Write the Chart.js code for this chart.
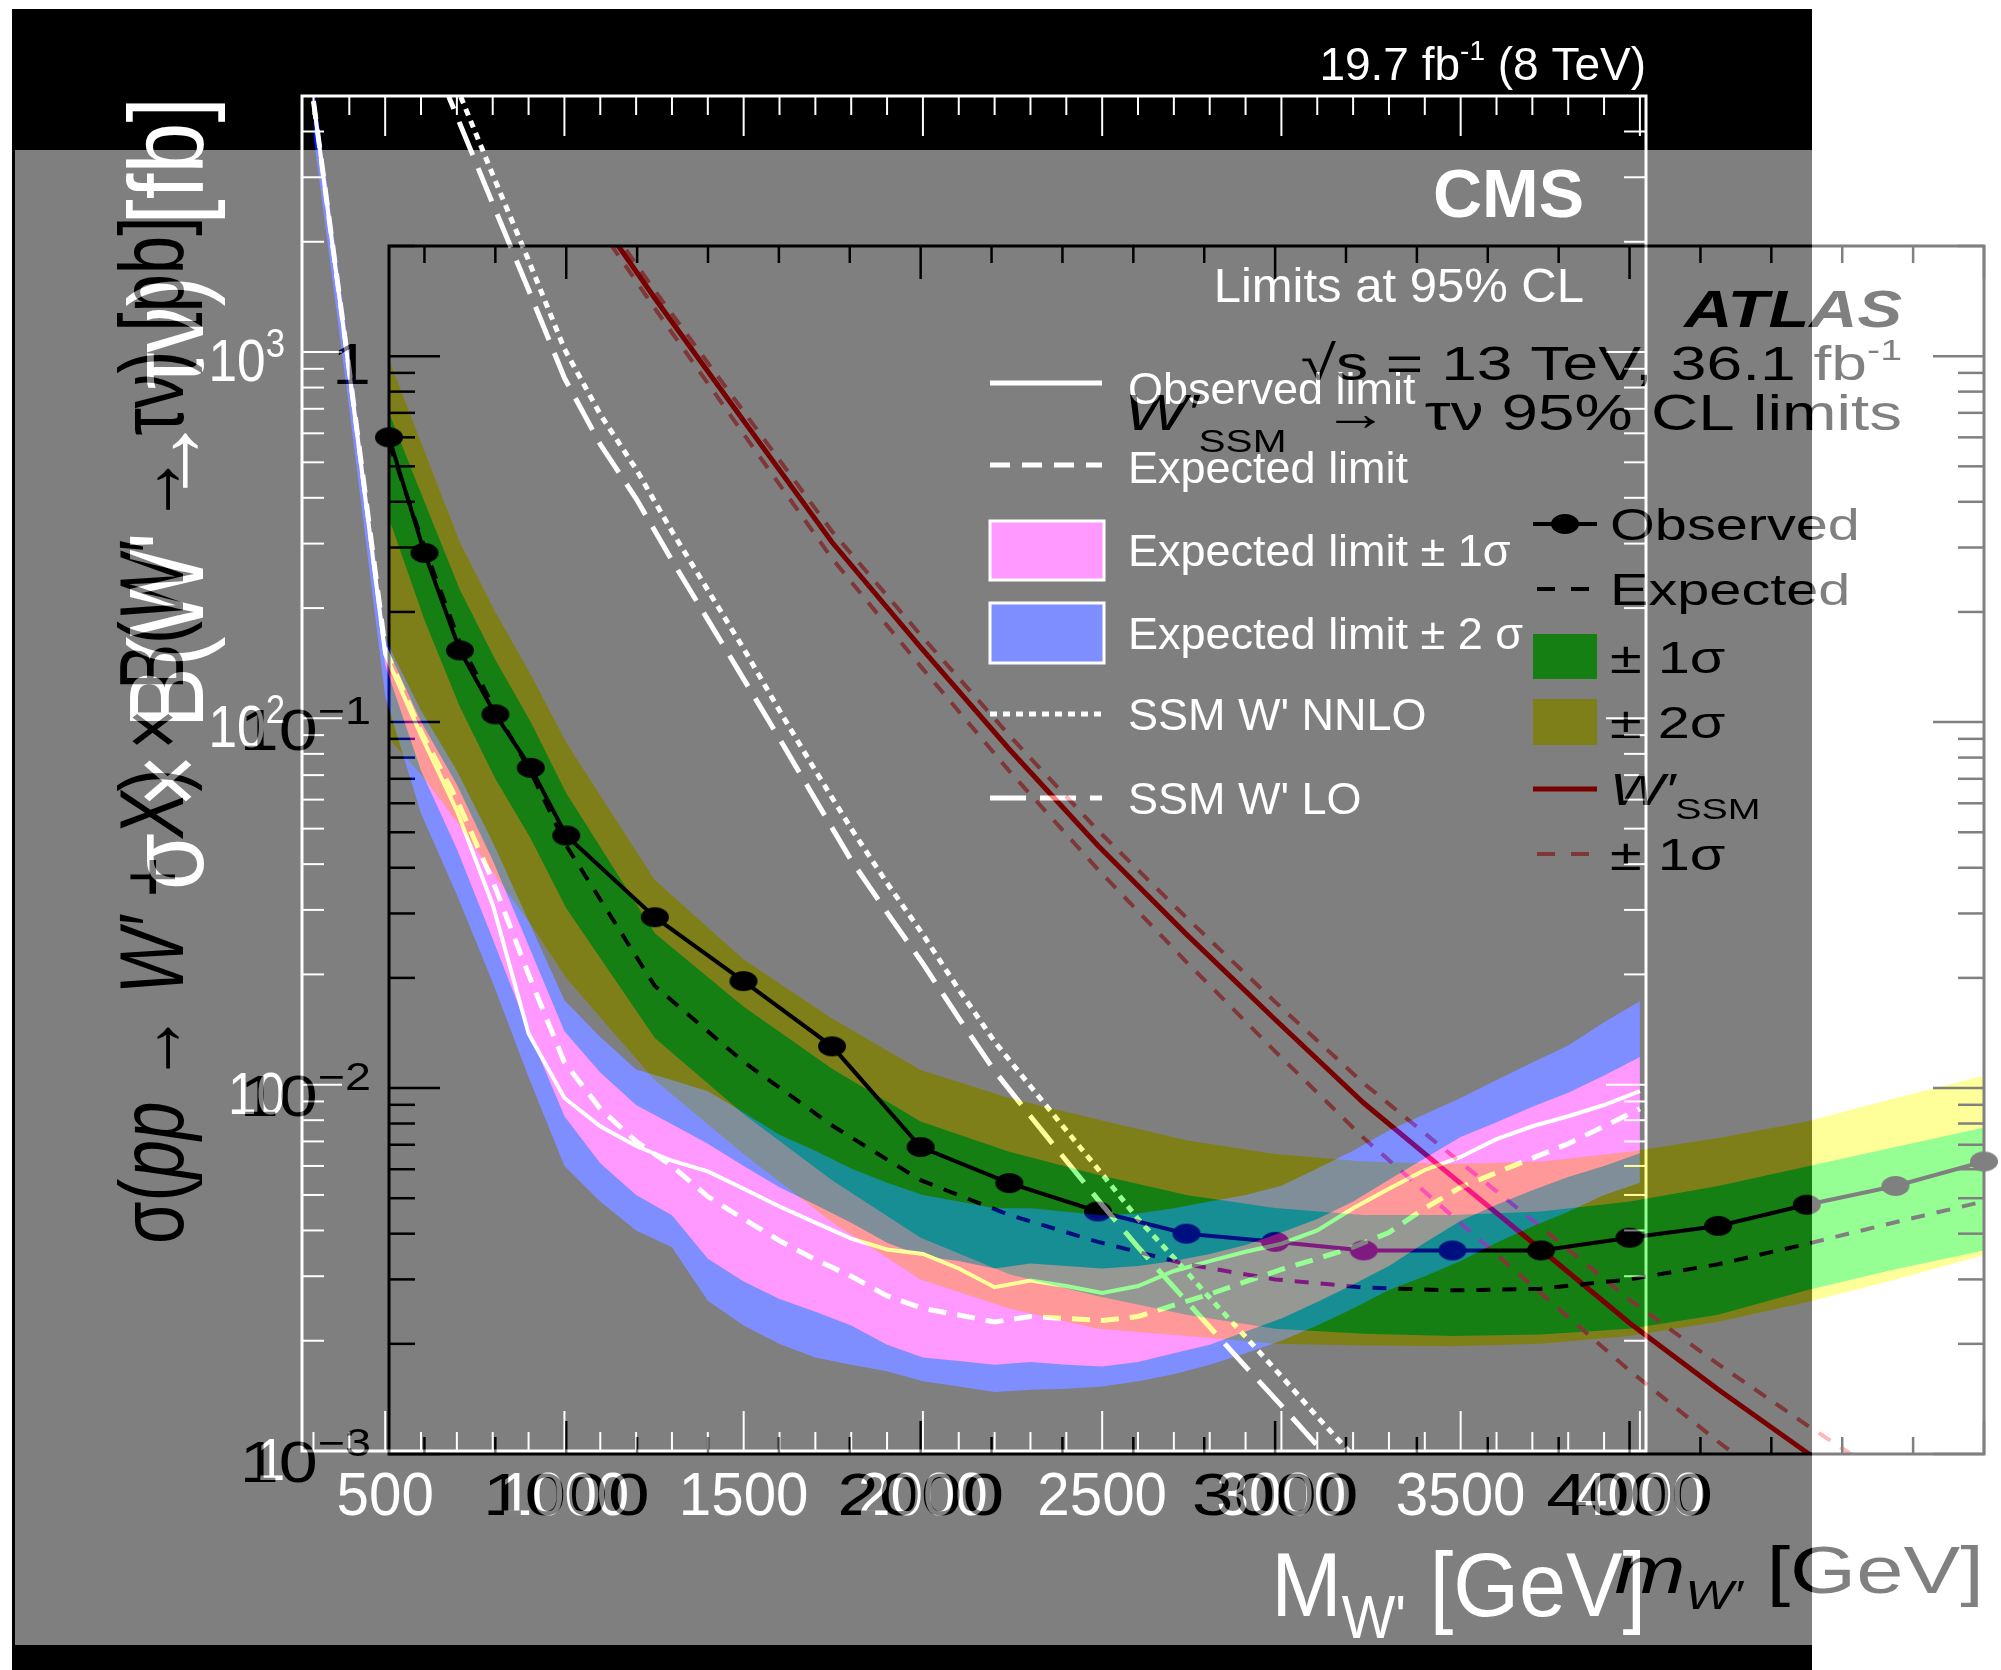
<!DOCTYPE html>
<html>
<head>
<meta charset="utf-8">
<script src="https://cdn.jsdelivr.net/npm/chart.js@4.4.1/dist/chart.umd.min.js"></script>
<style>
  html, body { margin: 0; padding: 0; background: #fff; }
  body { width: 2001px; height: 1670px; position: relative; overflow: hidden; }
  #cmsBox { position: absolute; left: 12px; top: 9px; width: 1800px; height: 1661px; background: #000; }
  #atlasBox { position: absolute; left: 15px; top: 150px; width: 1986px; height: 1495px; background: #fff; opacity: 0.5; }
  canvas { display: block; }
</style>
</head>
<body>
<div id="cmsBox"><canvas id="cms" width="1800" height="1661"></canvas></div>
<div id="atlasBox"><canvas id="atlas" width="1986" height="1495"></canvas></div>
<script>
// ---- CMS 8 TeV (fb) ----
var cmsMass = [300, 400, 500, 600, 700, 800, 900, 1000, 1100, 1200, 1300, 1400, 1500, 1600, 1700, 1800, 1900, 2000, 2100, 2200,
  2300, 2400, 2500, 2600, 2700, 2800, 2900, 3000, 3100, 3200, 3300, 3400, 3500, 3600, 3700, 3800, 3900, 4000];
var cmsObs = [4840, 880, 150, 90, 56, 31, 13.8, 9.2, 7.7, 6.8, 6.2, 5.8, 5.2, 4.65, 4.2, 3.8, 3.55, 3.45, 3.15, 2.8,
  2.92, 2.82, 2.7, 2.82, 3.1, 3.3, 3.5, 3.68, 4.0, 4.6, 5.2, 5.85, 6.35, 7.1, 7.7, 8.2, 8.8, 9.6];
var cmsExp = [4840, 890, 155, 92, 60, 36, 20, 11.5, 8.6, 7.0, 6.0, 4.95, 4.3, 3.75, 3.33, 3.0, 2.65, 2.45, 2.35, 2.25,
  2.33, 2.3, 2.27, 2.33, 2.5, 2.68, 2.9, 3.13, 3.35, 3.6, 3.95, 4.6, 5.25, 5.75, 6.3, 6.9, 7.7, 8.6];
var cmsUp1 = [5100, 940, 160, 98, 66, 41, 24, 14, 10.8, 8.8, 7.8, 6.9, 6.0, 5.25, 4.7, 4.2, 3.7, 3.4, 3.3, 3.15,
  3.25, 3.2, 3.15, 3.2, 3.3, 3.45, 3.65, 3.95, 4.3, 4.8, 5.5, 6.3, 7.2, 7.9, 8.7, 9.5, 10.6, 11.9];
var cmsDn1 = [4400, 800, 140, 72, 44, 25, 14, 8.2, 6.1, 5.0, 4.4, 3.35, 2.9, 2.6, 2.4, 2.2, 1.95, 1.8, 1.76, 1.72,
  1.75, 1.72, 1.7, 1.75, 1.85, 1.95, 2.12, 2.3, 2.55, 2.85, 3.2, 3.7, 4.25, 4.7, 5.15, 5.6, 6.0, 6.5];
var cmsUp2 = [5400, 1000, 165, 105, 72, 46, 28, 17, 13.5, 11.0, 10.3, 9.6, 8.4, 7.3, 6.6, 5.9, 5.4, 5.0, 4.8, 4.6,
  4.6, 4.5, 4.4, 4.45, 4.6, 4.8, 5.0, 5.3, 5.9, 6.6, 7.5, 8.3, 9.2, 10.3, 11.5, 12.8, 14.8, 16.9];
var cmsDn2 = [3900, 700, 115, 55, 33, 19, 10.5, 6.0, 4.8, 4.0, 3.6, 2.57, 2.2, 1.96, 1.8, 1.72, 1.65, 1.55, 1.5, 1.45,
  1.47, 1.48, 1.5, 1.55, 1.62, 1.72, 1.85, 2.0, 2.2, 2.45, 2.75, 3.0, 3.3, 3.7, 4.1, 4.5, 5.0, 5.4];
var thMass = [600, 700, 800, 900, 1000, 1100, 1200, 1300, 1400, 1500, 1600, 1700, 1800, 1900, 2000, 2100, 2200,
  2300, 2400, 2500, 2600, 2700, 2800, 2900, 3000, 3100, 3200, 3300];
var thLO = [7600, 4400, 2540, 1480, 850, 560, 398, 270, 186, 128, 88, 60, 41, 29.5, 21.4, 15.2, 10.9,
  8.2, 6.2, 4.7, 3.6, 2.8, 2.18, 1.70, 1.33, 1.035, 0.81, 0.63];
var thNNLO = [9100, 5280, 3050, 1780, 1020, 676, 479, 324, 224, 155, 105, 72, 50, 35.5, 25.7, 18.2, 13.1,
  9.9, 7.5, 5.7, 4.3, 3.37, 2.62, 2.05, 1.6, 1.24, 0.97, 0.76];

// ---- ATLAS 13 TeV (pb) ----
var atlasMass = [500, 600, 700, 800, 900, 1000, 1250, 1500, 1750, 2000, 2250, 2500, 2750, 3000, 3250, 3500, 3750, 4000, 4250, 4500, 4750, 5000];
var atlasObs = [0.60, 0.29, 0.157, 0.105, 0.075, 0.049, 0.0293, 0.0196, 0.0130, 0.0069, 0.0055, 0.0046, 0.0040, 0.0038, 0.0036, 0.0036, 0.0036, 0.0039, 0.0042, 0.0048, 0.0054, 0.0063];
var atlasExp = [0.58, 0.30, 0.165, 0.108, 0.073, 0.046, 0.019, 0.0118, 0.0079, 0.0056, 0.0045, 0.0038, 0.0033, 0.0030, 0.00285, 0.0028, 0.00283, 0.0030, 0.0033, 0.00375, 0.0043, 0.0049];
var atlasUp1 = [0.70, 0.40, 0.23, 0.148, 0.10, 0.064, 0.0265, 0.0167, 0.0113, 0.0081, 0.0067, 0.0058, 0.0051, 0.0047, 0.0045, 0.0045, 0.0046, 0.0049, 0.0054, 0.0061, 0.0069, 0.0078];
var atlasDn1 = [0.36, 0.19, 0.11, 0.07, 0.048, 0.031, 0.0137, 0.0085, 0.0056, 0.0039, 0.0031, 0.0027, 0.0024, 0.0022, 0.00213, 0.0021, 0.00212, 0.0022, 0.0024, 0.0028, 0.0032, 0.0036];
var atlasUp2 = [0.98, 0.55, 0.31, 0.20, 0.135, 0.088, 0.037, 0.0225, 0.0155, 0.0112, 0.0094, 0.0082, 0.0072, 0.0066, 0.0063, 0.0062, 0.0063, 0.0067, 0.0073, 0.0081, 0.0094, 0.0108];
var atlasDn2 = [0.09, 0.07, 0.052, 0.038, 0.028, 0.02, 0.0105, 0.0066, 0.0043, 0.0030, 0.0025, 0.0022, 0.0021, 0.0020, 0.00198, 0.00197, 0.0020, 0.0021, 0.0023, 0.0026, 0.0030, 0.0035];
var ssmMass = [1000, 1250, 1500, 1750, 2000, 2250, 2500, 2750, 3000, 3250, 3500, 3750, 4000, 4250, 4500, 4750, 5000];
var ssm = [3.2, 1.44, 0.667, 0.31, 0.16, 0.0843, 0.046, 0.0263, 0.0154, 0.0091, 0.00573, 0.00362, 0.00228, 0.0015, 0.00101, 0.00069, 0.00048];
var ssmUp = [3.33, 1.51, 0.707, 0.332, 0.173, 0.092, 0.0506, 0.0292, 0.0172, 0.0103, 0.00653, 0.00417, 0.00264, 0.00176, 0.0012, 0.00083, 0.00059];
var ssmDn = [3.04, 1.35, 0.614, 0.28, 0.142, 0.0735, 0.0396, 0.0221, 0.0126, 0.0073, 0.00447, 0.00275, 0.00169, 0.00108, 0.00071, 0.00047, 0.00032];

// ---- tick labels ----
var cmsXTicks = [500, 1000, 1500, 2000, 2500, 3000, 3500, 4000];
var cmsXLabels = ["500", "1000", "1500", "2000", "2500", "3000", "3500", "4000"];
var cmsYTicks = [1, 10, 100, 1000];
var cmsYLabels = [["1", ""], ["10", ""], ["10", "2"], ["10", "3"]];
var atlasXTicks = [1000, 2000, 3000, 4000];
var atlasXLabels = ["1000", "2000", "3000", "4000"];
var atlasYTicks = [0.001, 0.01, 0.1, 1];
var atlasYLabels = [["10", "\u22123"], ["10", "\u22122"], ["10", "\u22121"], ["1", ""]];

var FONT = '"Liberation Sans", Arial, Helvetica, sans-serif';
var CMS_BLUE = "rgb(0,30,255)";
var CMS_PINK = "rgb(255,50,255)";
var AT_GREEN = "rgb(45,255,40)";
var AT_YELLOW = "rgb(255,255,50)";
var AT_RED = "rgb(240,0,0)";
var AT_RED2 = "rgb(255,110,110)";
var none = "rgba(0,0,0,0)";

function pts(xs, ys) {
  return xs.map(function (v, i) { return { x: v, y: ys[i] }; });
}
function fnt(p) {
  return (p.i ? "italic " : "") + (p.b ? "bold " : "") + p.s + "px " + (p.f || FONT);
}
// draw text made of parts (for super/subscripts), optionally rotated
function rich(ctx, x, y, parts, o) {
  o = o || {};
  ctx.save();
  ctx.fillStyle = o.color || "#fff";
  ctx.textBaseline = "alphabetic";
  ctx.textAlign = "left";
  var ws = parts.map(function (p) { ctx.font = fnt(p); return ctx.measureText(p.t).width; });
  var tot = ws.reduce(function (a, b) { return a + b; }, 0);
  ctx.translate(x, y);
  if (o.rot) ctx.rotate(-Math.PI / 2);
  ctx.scale(o.sx || 1, o.sy || 1);
  var cx = o.align === "right" ? -tot : o.align === "center" ? -tot / 2 : 0;
  parts.forEach(function (p, k) { ctx.font = fnt(p); ctx.fillText(p.t, cx, p.dy || 0); cx += ws[k]; });
  ctx.restore();
}
function seg(ctx, x1, y1, x2, y2) {
  ctx.beginPath(); ctx.moveTo(x1, y1); ctx.lineTo(x2, y2); ctx.stroke();
}
function band(xs, up, dn, color, order) {
  return [
    { data: pts(xs, up), borderColor: none, borderWidth: 0, pointRadius: 0, backgroundColor: color, fill: "+1", order: order },
    { data: pts(xs, dn), borderColor: none, borderWidth: 0, pointRadius: 0, fill: false, order: order }
  ];
}

// ---------------- CMS layer ----------------
var cmsDecor = {
  id: "cmsDecor",
  afterDraw: function (chart) {
    var ctx = chart.ctx, a = chart.chartArea, x = chart.scales.x, y = chart.scales.y;
    ctx.save();
    ctx.strokeStyle = "#fff";
    ctx.lineWidth = 3;
    ctx.strokeRect(a.left, a.top, a.right - a.left, a.bottom - a.top);
    ctx.lineWidth = 2;
    for (var v = 300; v <= 4000; v += 100) {
      var px = x.getPixelForValue(v), L = v % 500 === 0 ? 40 : 19;
      seg(ctx, px, a.bottom, px, a.bottom - L);
      seg(ctx, px, a.top, px, a.top + L);
    }
    for (var k = 0; k <= 3; k++) {
      for (var d = 1; d <= 9; d++) {
        var val = d * Math.pow(10, k);
        if (val > 5000) break;
        var py = y.getPixelForValue(val), Ly = d === 1 ? 40 : 22;
        seg(ctx, a.left, py, a.left + Ly, py);
        seg(ctx, a.right, py, a.right - Ly, py);
      }
    }
    ctx.restore();

    cmsXTicks.forEach(function (t, i) {
      rich(ctx, x.getPixelForValue(t), 1506, [{ t: cmsXLabels[i], s: 62 }], { align: "center", sx: 0.94 });
    });
    cmsYTicks.forEach(function (t, i) {
      var lab = cmsYLabels[i];
      var parts = [{ t: lab[0], s: 59 }];
      if (lab[1]) parts.push({ t: lab[1], s: 40, dy: -24 });
      rich(ctx, 273, y.getPixelForValue(t) + 29, parts, { align: "right", sx: 0.87 });
    });

    rich(ctx, 1634, 71, [{ t: "19.7 fb", s: 46 }, { t: "-1", s: 28, dy: -20 }, { t: " (8 TeV)", s: 46 }], { align: "right" });
    rich(ctx, 1572, 208, [{ t: "CMS", s: 68, b: true }], { align: "right" });
    rich(ctx, 1572, 293, [{ t: "Limits at 95% CL", s: 49 }], { align: "right" });

    rich(ctx, 1634, 1607, [{ t: "M", s: 91 }, { t: "W'", s: 61, dy: 22 }, { t: " [GeV]", s: 91 }], { align: "right", sx: 0.93 });
    rich(ctx, 191, 88, [{ t: "\u03c3 \u00d7 B(W' \u2192 \u03c4\u03bd)  [fb]", s: 92 }], { rot: true, align: "right", sy: 1.15 });

    // legend
    ctx.save();
    ctx.strokeStyle = "#fff";
    ctx.lineWidth = 5;
    var lx0 = 978, lx1 = 1090;
    seg(ctx, lx0, 374, lx1, 374);
    ctx.setLineDash([20, 12]); seg(ctx, lx0, 456, lx1, 456);
    ctx.setLineDash([7, 6]); seg(ctx, lx0, 705, lx1, 705);
    ctx.setLineDash([36, 14]); seg(ctx, lx0, 789, lx1, 789);
    ctx.setLineDash([]);
    ctx.lineWidth = 3;
    ctx.fillStyle = CMS_PINK; ctx.fillRect(978, 512, 114, 59); ctx.strokeRect(978, 512, 114, 59);
    ctx.fillStyle = CMS_BLUE; ctx.fillRect(978, 594, 114, 60); ctx.strokeRect(978, 594, 114, 60);
    ctx.restore();
    var tx = 1116;
    rich(ctx, tx, 395, [{ t: "Observed limit", s: 45 }]);
    rich(ctx, tx, 474, [{ t: "Expected limit", s: 45 }]);
    rich(ctx, tx, 557, [{ t: "Expected limit \u00b1 1\u03c3", s: 45 }]);
    rich(ctx, tx, 640, [{ t: "Expected limit \u00b1 2 \u03c3", s: 45 }]);
    rich(ctx, tx, 721, [{ t: "SSM W' NNLO", s: 45 }]);
    rich(ctx, tx, 805, [{ t: "SSM W' LO", s: 45 }]);
  }
};

new Chart(document.getElementById("cms"), {
  type: "line",
  data: {
    datasets: [].concat(
      band(cmsMass, cmsUp2, cmsDn2, CMS_BLUE, 10),
      band(cmsMass, cmsUp1, cmsDn1, CMS_PINK, 9),
      [
        { data: pts(thMass, thNNLO), borderColor: "#fff", borderWidth: 5, borderDash: [7, 6], pointRadius: 0, fill: false, order: 6 },
        { data: pts(thMass, thLO), borderColor: "#fff", borderWidth: 5, borderDash: [36, 14], pointRadius: 0, fill: false, order: 5 },
        { data: pts(cmsMass, cmsExp), borderColor: "#fff", borderWidth: 5, borderDash: [18, 11], pointRadius: 0, fill: false, order: 4 },
        { data: pts(cmsMass, cmsObs), borderColor: "#fff", borderWidth: 4, pointRadius: 0, fill: false, order: 3 }
      ]
    )
  },
  options: {
    responsive: false, animation: false, events: [],
    layout: { padding: { left: 290, top: 87, right: 166, bottom: 219 } },
    scales: {
      x: { type: "linear", min: 268, max: 4017, display: false },
      y: { type: "logarithmic", min: 1, max: 5000, display: false }
    },
    plugins: { legend: { display: false }, tooltip: { enabled: false } }
  },
  plugins: [cmsDecor]
});

// ---------------- ATLAS layer ----------------
var dot = document.createElement("canvas");
dot.width = 30; dot.height = 22;
(function () {
  var c = dot.getContext("2d");
  c.fillStyle = "#000";
  c.beginPath(); c.ellipse(15, 11, 14, 10, 0, 0, 2 * Math.PI); c.fill();
})();

var AS = 1.31;
var atlasDecor = {
  id: "atlasDecor",
  afterDraw: function (chart) {
    var ctx = chart.ctx, a = chart.chartArea, x = chart.scales.x, y = chart.scales.y;
    ctx.save();
    ctx.strokeStyle = "#000";
    ctx.lineWidth = 3;
    ctx.strokeRect(a.left, a.top, a.right - a.left, a.bottom - a.top);
    ctx.lineWidth = 2.5;
    for (var v = 600; v <= 5000; v += 200) {
      var px = x.getPixelForValue(v), L = v % 1000 === 0 ? 33 : 17;
      seg(ctx, px, a.bottom, px, a.bottom - L);
      seg(ctx, px, a.top, px, a.top + L);
    }
    for (var k = -3; k <= 0; k++) {
      for (var d = 1; d <= 9; d++) {
        var val = d * Math.pow(10, k);
        if (val > 2) break;
        var py = y.getPixelForValue(val), Ly = d === 1 ? 51 : 26;
        seg(ctx, a.left, py, a.left + Ly, py);
        seg(ctx, a.right, py, a.right - Ly, py);
      }
    }
    ctx.restore();

    atlasXTicks.forEach(function (t, i) {
      rich(ctx, x.getPixelForValue(t), 1365, [{ t: atlasXLabels[i], s: 60 }], { align: "center", sx: 1.25, color: "#000" });
    });
    atlasYTicks.forEach(function (t, i) {
      var lab = atlasYLabels[i];
      var parts = [{ t: lab[0], s: 57 }];
      if (lab[1]) parts.push({ t: lab[1], s: 38, dy: -26 });
      rich(ctx, 356, y.getPixelForValue(t) + 28, parts, { align: "right", sx: 1.23, color: "#000" });
    });

    rich(ctx, 1887, 177, [{ t: "ATLAS", s: 51, b: true, i: true }], { align: "right", sx: AS, color: "#000" });
    rich(ctx, 1887, 230, [{ t: "\u221as = 13 TeV, 36.1 fb", s: 49 }, { t: "-1", s: 30, dy: -20 }], { align: "right", sx: AS, color: "#000" });
    rich(ctx, 1887, 280, [{ t: "W\u2032", s: 50, i: true }, { t: "SSM", s: 31, dy: 22 }, { t: "  \u2192  \u03c4\u03bd 95% CL limits", s: 50 }], { align: "right", sx: AS, color: "#000" });

    rich(ctx, 1969, 1443, [{ t: "m", s: 67, i: true }, { t: "W\u2032", s: 40, i: true, dy: 16 }, { t: " [GeV]", s: 67 }], { align: "right", sx: 1.27, color: "#000" });
    rich(ctx, 168, 1094, [
      { t: "\u03c3(", s: 69 }, { t: "pp", s: 69, i: true }, { t: " \u2192 ", s: 69 }, { t: "W\u2032", s: 69, i: true },
      { t: " + ", s: 69 }, { t: "X", s: 69, i: true }, { t: ") \u00d7 B(", s: 69 }, { t: "W\u2032", s: 69, i: true },
      { t: " \u2192 \u03c4\u03bd) [pb]", s: 69 }
    ], { rot: true, sy: AS, color: "#000" });

    // legend
    ctx.save();
    var m0 = 1518, m1 = 1582, mc = 1550;
    ctx.strokeStyle = "#000"; ctx.lineWidth = 4;
    seg(ctx, m0, 374, m1, 374);
    ctx.drawImage(dot, mc - 15, 374 - 11);
    ctx.setLineDash([18, 16]); seg(ctx, m0 + 4, 439, m1, 439);
    ctx.setLineDash([]);
    ctx.fillStyle = AT_GREEN; ctx.fillRect(m0, 484, m1 - m0, 45);
    ctx.fillStyle = AT_YELLOW; ctx.fillRect(m0, 549, m1 - m0, 46);
    ctx.strokeStyle = AT_RED; ctx.lineWidth = 5; seg(ctx, m0, 639, m1, 639);
    ctx.strokeStyle = AT_RED2; ctx.lineWidth = 4; ctx.setLineDash([18, 16]); seg(ctx, m0 + 4, 704, m1, 704);
    ctx.restore();
    var tx = 1595;
    rich(ctx, tx, 390, [{ t: "Observed", s: 44 }], { sx: AS, color: "#000" });
    rich(ctx, tx, 455, [{ t: "Expected", s: 44 }], { sx: AS, color: "#000" });
    rich(ctx, tx, 523, [{ t: "\u00b1 1\u03c3", s: 44 }], { sx: AS, color: "#000" });
    rich(ctx, tx, 588, [{ t: "\u00b1 2\u03c3", s: 44 }], { sx: AS, color: "#000" });
    rich(ctx, tx, 655, [{ t: "W\u2032", s: 44, i: true }, { t: "SSM", s: 30, dy: 14 }], { sx: AS, color: "#000" });
    rich(ctx, tx, 720, [{ t: "\u00b1 1\u03c3", s: 44 }], { sx: AS, color: "#000" });
  }
};

new Chart(document.getElementById("atlas"), {
  type: "line",
  data: {
    datasets: [].concat(
      band(atlasMass, atlasUp2, atlasDn2, AT_YELLOW, 10),
      band(atlasMass, atlasUp1, atlasDn1, AT_GREEN, 9),
      [
        { data: pts(ssmMass, ssmUp), borderColor: AT_RED2, borderWidth: 4, borderDash: [14, 12], pointRadius: 0, fill: false, order: 7 },
        { data: pts(ssmMass, ssmDn), borderColor: AT_RED2, borderWidth: 4, borderDash: [14, 12], pointRadius: 0, fill: false, order: 7 },
        { data: pts(ssmMass, ssm), borderColor: AT_RED, borderWidth: 5, pointRadius: 0, fill: false, order: 6 },
        { data: pts(atlasMass, atlasExp), borderColor: "#000", borderWidth: 4, borderDash: [14, 12], pointRadius: 0, fill: false, order: 5 },
        { data: pts(atlasMass, atlasObs), borderColor: "#000", borderWidth: 4, pointStyle: dot, pointRadius: 12, fill: false, clip: false, order: 4 }
      ]
    )
  },
  options: {
    responsive: false, animation: false, events: [],
    layout: { padding: { left: 374, top: 96, right: 17, bottom: 191 } },
    scales: {
      x: { type: "linear", min: 500, max: 5000, display: false },
      y: { type: "logarithmic", min: 0.001, max: 2, display: false }
    },
    plugins: { legend: { display: false }, tooltip: { enabled: false } }
  },
  plugins: [atlasDecor]
});
</script>
</body>
</html>
